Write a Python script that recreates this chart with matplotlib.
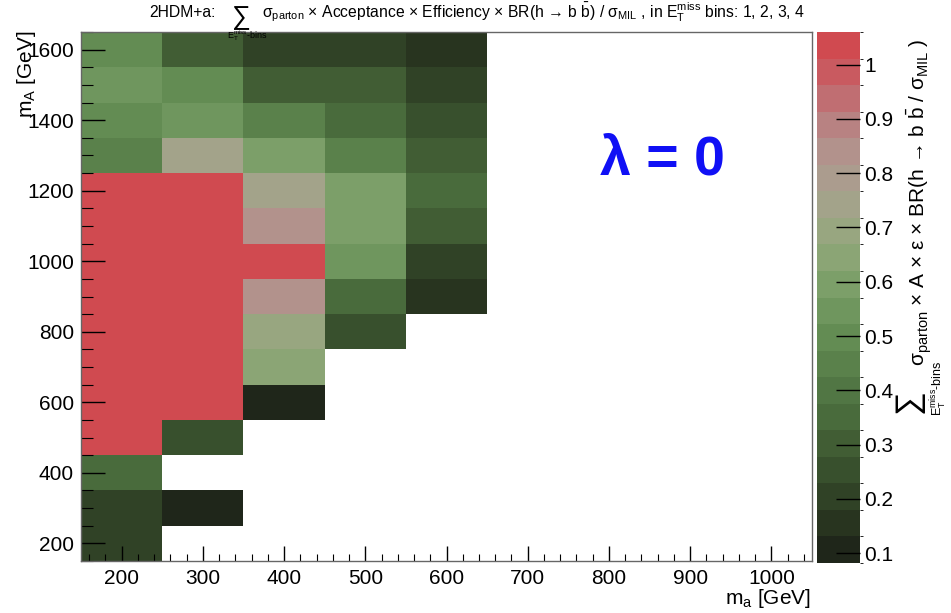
import numpy as np
import matplotlib
matplotlib.use('Agg')
import matplotlib.pyplot as plt
from matplotlib.colors import ListedColormap, BoundaryNorm
import matplotlib.colorbar as mcb
from matplotlib.ticker import MultipleLocator

# ---------------- data ----------------
ma_bins = [200, 300, 400, 500, 600]          # m_a bin centres [GeV]
mA_bins = [200, 300, 400, 500, 600, 700, 800, 900, 1000,
           1100, 1200, 1300, 1400, 1500, 1600]  # m_A bin centres [GeV]
nan = np.nan
# rows: m_A (200 -> 1600), columns: m_a (200 -> 600)
values = [
    [0.21, nan,  nan,  nan,  nan],
    [0.21, 0.10, nan,  nan,  nan],
    [0.36, nan,  nan,  nan,  nan],
    [1.05, 0.26, nan,  nan,  nan],
    [1.05, 1.05, 0.10, nan,  nan],
    [1.05, 1.05, 0.62, nan,  nan],
    [1.05, 1.05, 0.70, 0.26, nan],
    [1.05, 1.05, 0.84, 0.37, 0.16],
    [1.05, 1.05, 1.05, 0.54, 0.21],
    [1.05, 1.05, 0.84, 0.59, 0.30],
    [1.05, 1.05, 0.74, 0.59, 0.36],
    [0.44, 0.74, 0.59, 0.46, 0.29],
    [0.50, 0.54, 0.46, 0.36, 0.24],
    [0.54, 0.49, 0.29, 0.29, 0.20],
    [0.49, 0.28, 0.21, 0.21, 0.16],
]
z_min, z_max, n_levels = 0.082, 1.06, 20
cbar_ticks = [0.1, 0.2, 0.3, 0.4, 0.5, 0.6, 0.7, 0.8, 0.9, 1.0]
cbar_ticklabels = ['0.1', '0.2', '0.3', '0.4', '0.5', '0.6', '0.7', '0.8', '0.9', '1']
bin_width_x = 100
bin_width_y = 100

palette = ['#1f261a', '#28341f', '#304226', '#38502d', '#415d34',
           '#496b3c', '#517644', '#5a814b', '#638c53', '#6f965e',
           '#7c9f69', '#8ba575', '#98a680', '#a3a38a', '#ab9c8e',
           '#b2928c', '#b88282', '#c06e72', '#c95a60', '#d04a50']

# ---------------- style ----------------
plt.rcParams['font.family'] = ['Liberation Sans', 'DejaVu Sans']
plt.rcParams['mathtext.fontset'] = 'custom'
plt.rcParams['mathtext.rm'] = 'Liberation Sans'
plt.rcParams['mathtext.it'] = 'Liberation Sans:italic'
plt.rcParams['mathtext.bf'] = 'Liberation Sans:bold'
plt.rcParams['mathtext.sf'] = 'Liberation Sans'

W, H = 951, 613
fig = plt.figure(figsize=(W / 100, H / 100), dpi=100)
ax = fig.add_axes([81 / W, 1 - 561 / H, (812 - 81) / W, (561 - 32) / H])

cmap = ListedColormap(palette)
bounds = np.linspace(z_min, z_max, n_levels + 1)
norm = BoundaryNorm(bounds, cmap.N)

ma = np.array(ma_bins, dtype=float)
mA = np.array(mA_bins, dtype=float)
xe = np.concatenate([ma - bin_width_x / 2, [ma[-1] + bin_width_x / 2]])
ye = np.concatenate([mA - bin_width_y / 2, [mA[-1] + bin_width_y / 2]])
Z = np.ma.masked_invalid(np.array(values))
ax.pcolormesh(xe, ye, Z, cmap=cmap, norm=norm, shading='flat')

ax.set_xlim(150, 1050)
ax.set_ylim(150, 1650)
ax.set_xticks(np.arange(200, 1001, 100))
ax.set_yticks(np.arange(200, 1601, 200))
ax.xaxis.set_minor_locator(MultipleLocator(20))
ax.yaxis.set_minor_locator(MultipleLocator(50))
ax.tick_params(which='both', direction='in', top=False, right=False, colors='black')
ax.tick_params(axis='x', which='major', length=10.8, width=1, labelsize=15, pad=6)
ax.tick_params(axis='x', which='minor', length=5.4, width=0.8)
ax.tick_params(axis='y', which='major', length=17, width=1, labelsize=15, pad=5)
ax.tick_params(axis='y', which='minor', length=8.6, width=0.8)
for s in ax.spines.values():
    s.set_color('#666666')
    s.set_linewidth(1)

fig.text(27 / W, 1 - 31 / H, r'm$_{\mathrm{A}}$ [GeV]', rotation=90,
         ha='center', va='top', fontsize=15)
fig.text(811 / W, 1 - 598 / H, r'm$_{\mathrm{a}}$ [GeV]', ha='right',
         va='center', fontsize=15)

# ---- title (pieces: prefix, large sum sign with its subscript, rest) ----
sub_bins = r'E$_{\mathrm{T}}^{\mathrm{miss}}$-bins'
fig.text(216 / W, 1 - 17 / H, '2HDM+a:', ha='right', va='baseline', fontsize=11.3)
fig.text(241 / W, 1 - 18 / H, '∑', ha='center', va='center', fontsize=19)
fig.text(247 / W, 1 - 36 / H, sub_bins, ha='center', va='center', fontsize=6.5)
title_rest = (r'σ$_{\mathrm{parton}}$ × Acceptance × Efficiency × '
              r'BR(h → b $\bar{\mathrm{b}}$) / σ$_{\mathrm{MIL}}$ , in '
              r'E$_{\mathrm{T}}^{\mathrm{miss}}$ bins: 1, 2, 3, 4')
fig.text(262 / W, 1 - 17 / H, title_rest, ha='left', va='baseline', fontsize=11.3)

ax.text(0.795, 0.757, 'λ = 0', transform=ax.transAxes, ha='center',
        va='center', fontsize=40, fontweight='bold', color='#1010f5')

# ---------------- colour bar ----------------
cax = fig.add_axes([817 / W, 1 - 563 / H, 43 / W, 531 / H])
cb = mcb.ColorbarBase(cax, cmap=cmap, norm=norm, boundaries=bounds,
                      ticks=cbar_ticks, orientation='vertical')
cb.set_ticklabels(cbar_ticklabels)
cb.outline.set_visible(False)
cax.tick_params(direction='in', length=17, width=1, labelsize=15, pad=3,
                right=True, left=False, colors='black')

# colour-bar title (pieces, rotated)
fig.text(908 / W, 1 - 401 / H, '∑', rotation=90, ha='center', va='center',
         fontsize=24)
fig.text(939 / W, 1 - 388 / H, sub_bins, rotation=90, ha='center',
         va='center', fontsize=9)
clabel_rest = (r'σ$_{\mathrm{parton}}$ × A × ε × BR(h → b $\bar{\mathrm{b}}$'
               r' / σ$_{\mathrm{MIL}}$ )')
fig.text(919 / W, 1 - 366 / H, clabel_rest, rotation=90, ha='center',
         va='bottom', fontsize=15)

fig.savefig('out.png', dpi=100)
